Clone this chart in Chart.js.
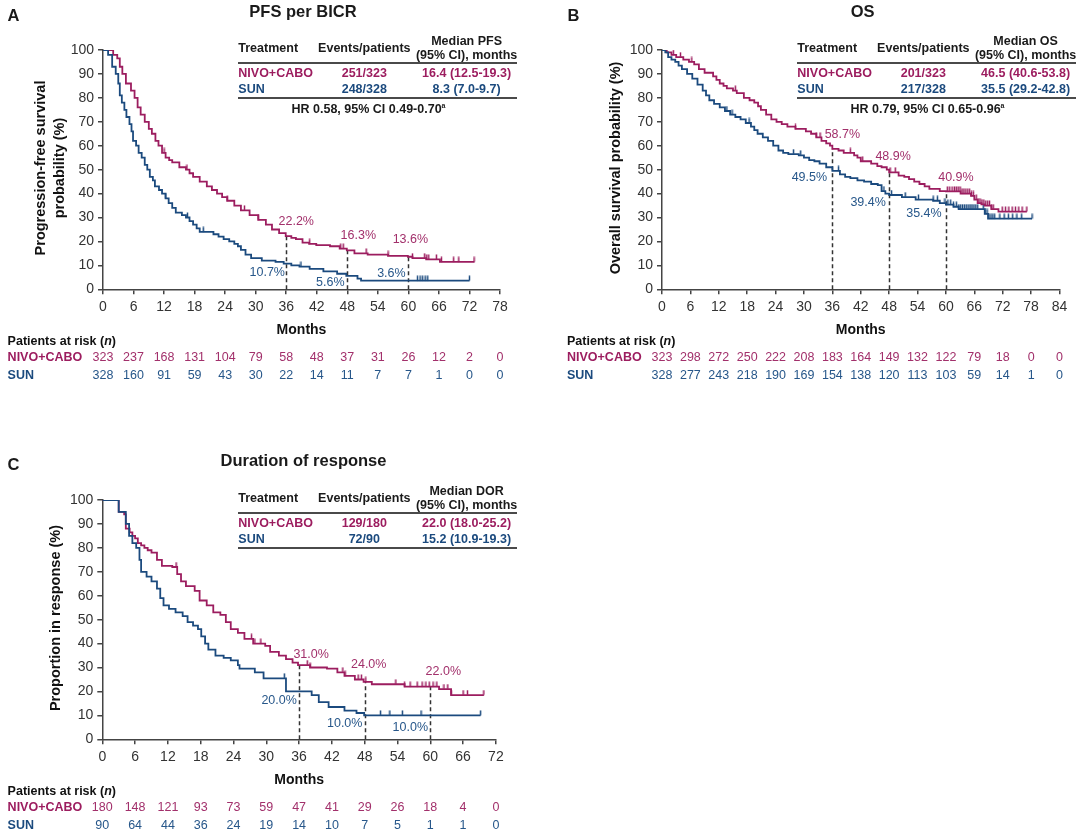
<!DOCTYPE html>
<html>
<head>
<meta charset="utf-8">
<script src="https://cdn.jsdelivr.net/npm/chart.js@4/dist/chart.umd.min.js"></script>
<style>
  body { margin: 0; background: #fff; font-family: "Liberation Sans", Arial, sans-serif; }
  #page { position: relative; width: 1080px; height: 832px; overflow: hidden; }
  canvas { position: absolute; }
  .t { position: absolute; white-space: nowrap; color: #1a1a1a; font-size: 12.5px; font-weight: bold; line-height: 1; }
  .rule { position: absolute; height: 1.5px; background: #4a4a4a; }
</style>
</head>
<body>
<div id="page">
  <canvas id="pfs" width="540" height="395" style="left:0;top:0"></canvas>
  <canvas id="os" width="540" height="395" style="left:540px;top:0"></canvas>
  <canvas id="dor" width="540" height="382" style="left:0;top:450px"></canvas>
</div>
<script>
const FONT = '"Liberation Sans", Arial, sans-serif';
const NIVO = '#9c1d5f', SUN = '#1b4a7e';
const NIVO_TXT = '#a2306b', SUN_TXT = '#27578a';

// ---- PFS per BICR (months where the curve steps, survival % after the step)
const pfsNivoT = [0, 2.0, 2.8, 3.3, 3.8, 4.5, 5.5, 6.2, 6.8, 7.4, 8.2, 9.0, 9.6, 10.3, 10.9, 11.6, 12.3, 13.0, 13.6, 15.0, 16.3, 17.0, 17.7, 19.0, 20.4, 21.4, 22.4, 23.4, 24.4, 25.8, 27.1, 28.8, 30.5, 32.0, 33.2, 34.6, 35.9, 37.0, 37.9, 39.2, 40.5, 41.9, 44.6, 46.5, 47.9, 49.4, 52.0, 56.0, 59.9, 60.8, 63.5, 66.2, 73.0];
const pfsNivoS = [100, 98, 96.5, 93, 90, 86, 83, 80, 76, 73, 70, 67, 65, 62, 60, 57, 55, 54, 53, 51, 50, 48.5, 47, 45, 43, 41.5, 40, 38.5, 37, 35, 33, 31, 29, 27, 25, 23.5, 22.2, 21.5, 21, 19.5, 19, 18.5, 18, 17, 16.3, 15, 14.5, 14, 13.6, 13, 12.5, 11.5, 11.5];
const pfsSunT = [0, 1.0, 1.8, 2.5, 3.0, 3.3, 3.7, 4.2, 4.6, 5.2, 5.6, 5.9, 6.5, 7.0, 7.6, 8.2, 8.7, 9.2, 9.8, 10.2, 11.0, 11.6, 12.3, 12.9, 13.6, 14.3, 15.5, 16.3, 17.0, 17.7, 18.4, 19.0, 21.7, 22.7, 23.7, 24.8, 25.8, 26.5, 27.1, 28.0, 29.1, 31.2, 33.9, 35.5, 37.0, 38.6, 40.6, 43.3, 46.0, 47.8, 50.0, 50.7, 72.0];
const pfsSunS = [100, 98, 93, 90, 86, 81, 78, 75, 72, 69, 66, 62, 60, 57, 55, 52, 50, 47, 45.5, 43, 41.5, 40, 38, 36, 34, 32, 31, 30, 28.5, 27, 25.5, 24, 23, 22, 21, 20, 19, 18, 16.5, 14.5, 13, 12, 11.5, 10.7, 10, 9.5, 8.5, 7.5, 6.5, 5.6, 4.5, 3.6, 3.6];
const pfsNivoCens = [12.0, 16.5, 24.4, 27.8, 30.5, 40.6, 46.7, 47.2, 51.7, 56.0, 60.8, 63.2, 63.6, 64.0, 65.5, 66.5, 68.9, 69.9, 72.9];
const pfsSunCens = [12.3, 16.6, 19.7, 38.9, 61.8, 62.3, 62.8, 63.3, 63.8, 72.0];
const pfsLandNivo = [22.2, 16.3, 13.6];
const pfsLandSun = [10.7, 5.6, 3.6];
const pfsRiskNivo = [323, 237, 168, 131, 104, 79, 58, 48, 37, 31, 26, 12, 2, 0];
const pfsRiskSun = [328, 160, 91, 59, 43, 30, 22, 14, 11, 7, 7, 1, 0, 0];

// ---- OS
const osNivoT = [0, 1.0, 2.0, 3.0, 4.5, 5.7, 6.8, 7.8, 9.0, 10.8, 11.5, 12.2, 13.0, 13.7, 15.0, 15.8, 17.3, 18.5, 19.5, 20.3, 20.9, 22.0, 23.1, 24.2, 25.3, 26.5, 28.2, 30.4, 31.5, 32.6, 33.7, 34.7, 35.5, 36.0, 37.3, 38.4, 40.6, 41.3, 42.0, 44.2, 45.5, 46.4, 47.5, 48.0, 50.0, 51.2, 52.2, 53.3, 54.4, 55.5, 56.5, 58.7, 60.0, 63.1, 65.3, 66.0, 66.7, 67.5, 68.2, 69.6, 71.1, 77.1];
const osNivoS = [100, 99, 98, 97, 96, 95, 94, 92, 90.5, 89, 87.5, 86, 85, 84, 83, 82, 80, 79, 78, 76.5, 75, 73, 71, 70, 69, 68, 67, 66, 65, 63.5, 62, 61, 60, 58.7, 58, 57, 56, 55, 53.5, 52.5, 51.5, 51, 50, 48.9, 47.5, 47, 46, 45, 44, 43, 42, 41, 40.9, 40, 39, 37.5, 36, 35.5, 35, 33.5, 32.5, 32.5];
const osSunT = [0, 0.7, 1.3, 2.0, 2.8, 3.5, 4.2, 5.3, 6.4, 7.5, 8.6, 9.3, 10.0, 11.0, 12.2, 13.3, 14.4, 15.5, 16.6, 17.7, 18.8, 19.5, 20.2, 21.3, 22.4, 23.5, 24.6, 25.6, 26.7, 28.9, 30.0, 31.1, 32.2, 33.3, 34.7, 36.0, 37.6, 38.7, 39.8, 41.3, 42.7, 44.2, 45.6, 46.4, 47.2, 48.0, 50.7, 53.6, 57.3, 58.7, 60.0, 61.6, 62.7, 68.2, 68.9, 78.2];
const osSunS = [100, 99, 97, 96, 95, 93.5, 92, 90, 88, 85.5, 83, 81, 79, 77.5, 76, 74.5, 73, 72, 71, 69.5, 68, 66.5, 65, 63.5, 62, 60, 58, 57, 56.5, 56, 55, 54, 53.5, 52.5, 51, 49.5, 48, 47, 46.5, 45.5, 45, 44, 43.5, 41, 40, 39.4, 38.5, 37.5, 37, 36, 35.4, 34.5, 33.5, 31.5, 29.5, 29.5];
const osNivoCens = [2.4, 3.9, 6.3, 15.5, 28.2, 32.6, 33.4, 39.8, 42.4, 48.2, 49.3, 60.3, 60.8, 61.3, 61.8, 62.2, 62.6, 63.0, 63.4, 63.8, 64.2, 64.6, 65.0, 65.4, 65.8, 66.4, 66.8, 67.2, 67.6, 68.0, 68.4, 68.8, 69.2, 69.6, 70.0, 71.9, 72.6, 73.3, 74.0, 74.7, 75.4, 76.1, 77.1];
const osSunCens = [13.7, 14.8, 18.4, 27.8, 29.3, 37.3, 46.9, 48.5, 51.4, 54.2, 57.3, 58.2, 59.8, 60.4, 61.0, 61.6, 62.2, 62.7, 63.1, 63.5, 63.9, 64.3, 64.7, 65.1, 65.5, 65.9, 66.3, 66.7, 67.9, 68.3, 68.7, 69.1, 69.5, 69.9, 70.3, 71.4, 72.3, 73.2, 74.1, 75.0, 76.0, 78.2];
const osLandNivo = [58.7, 48.9, 40.9];
const osLandSun = [49.5, 39.4, 35.4];
const osRiskNivo = [323, 298, 272, 250, 222, 208, 183, 164, 149, 132, 122, 79, 18, 0, 0];
const osRiskSun = [328, 277, 243, 218, 190, 169, 154, 138, 120, 113, 103, 59, 14, 1, 0];

// ---- Duration of response
const dorNivoT = [0, 3.0, 4.0, 4.3, 5.0, 5.5, 6.0, 6.5, 7.1, 7.7, 8.3, 9.0, 10.0, 10.9, 12.8, 13.7, 14.4, 15.3, 16.9, 17.8, 19.1, 20.3, 21.6, 22.6, 23.5, 24.8, 26.0, 27.6, 29.8, 30.7, 32.3, 33.6, 34.8, 35.8, 38.0, 41.1, 43.0, 44.3, 46.2, 47.8, 49.3, 55.3, 61.6, 63.8, 69.8];
const dorNivoS = [100, 95, 94, 88, 86.5, 85, 84, 82, 81, 80, 79, 78, 75, 72.5, 72, 69, 66, 64, 62, 58, 56, 53, 52, 49, 46, 44.5, 42, 40, 39, 36.5, 35, 33.5, 32, 31, 30, 29.5, 28, 26.5, 25, 24, 23, 22, 21, 18.5, 18.5];
const dorSunT = [0, 3.0, 4.3, 4.9, 5.5, 6.2, 6.8, 7.1, 8.1, 9.0, 10.0, 10.6, 11.2, 12.2, 13.4, 14.7, 15.6, 16.6, 17.5, 18.1, 18.8, 19.4, 20.7, 22.2, 23.5, 24.8, 25.1, 27.9, 29.5, 33.6, 38.3, 39.6, 41.4, 44.3, 46.5, 47.9, 69.2];
const dorSunS = [100, 95, 90, 85, 82, 80, 75, 70, 68, 66, 63, 59, 56, 54.5, 53, 51.5, 49, 47.5, 46, 43, 40, 37.5, 35, 34, 33, 31, 29.5, 28, 25.5, 20, 18.5, 15.5, 13.5, 12, 11, 10, 10];
const dorNivoCens = [1.5, 2.8, 13.5, 27.3, 27.9, 29.0, 37.5, 38.0, 44.0, 44.4, 46.8, 47.4, 48.2, 53.7, 55.3, 56.3, 57.6, 58.5, 59.2, 59.8, 60.5, 61.2, 62.5, 63.2, 63.8, 66.0, 66.8, 69.8];
const dorSunCens = [2.0, 33.3, 50.9, 52.6, 54.9, 58.3, 69.2];
const dorLandNivo = [31.0, 24.0, 22.0];
const dorLandSun = [20.0, 10.0, 10.0];
const dorRiskNivo = [180, 148, 121, 93, 73, 59, 47, 41, 29, 26, 18, 4, 0];
const dorRiskSun = [90, 64, 44, 36, 24, 19, 14, 10, 7, 5, 1, 1, 0];

const landmarks = [36, 48, 60];

Chart.defaults.font.family = FONT;

function stepAt(T, S, t) {
  let v = S[0];
  for (let i = 0; i < T.length; i++) if (T[i] <= t) v = S[i];
  return v;
}

// censor mark: short vertical stroke standing on the curve
function tickImg(color) {
  const c = document.createElement('canvas');
  c.width = 3; c.height = 11;
  const g = c.getContext('2d');
  g.strokeStyle = color; g.lineWidth = 1.5;
  g.beginPath(); g.moveTo(1.5, 0.5); g.lineTo(1.5, 5.5); g.stroke();
  return c;
}

function extras(p) {
  return {
    id: 'extras',
    beforeDatasetsDraw(chart) {
      const { ctx, scales: { x, y } } = chart;
      ctx.save();
      ctx.setLineDash([4, 3]);
      ctx.strokeStyle = '#333'; ctx.lineWidth = 1.5;
      landmarks.forEach((m, i) => {
        const px = Math.round(x.getPixelForValue(m)) + 0.5;
        ctx.beginPath();
        ctx.moveTo(px, y.getPixelForValue(0));
        ctx.lineTo(px, y.getPixelForValue(p.landNivo[i]));
        ctx.stroke();
      });
      ctx.restore();
    },
    afterDraw(chart) {
      const { ctx, chartArea, scales: { x, y } } = chart;
      ctx.save();
      ctx.textAlign = 'center'; ctx.textBaseline = 'middle';

      ctx.font = '12.5px ' + FONT;
      landmarks.forEach((m, i) => {
        const px = x.getPixelForValue(m);
        ctx.fillStyle = NIVO_TXT;
        ctx.fillText(p.landNivo[i].toFixed(1) + '%', px + p.nivoOff[i][0], y.getPixelForValue(p.landNivo[i]) + p.nivoOff[i][1]);
        ctx.fillStyle = SUN_TXT;
        ctx.fillText(p.landSun[i].toFixed(1) + '%', px + p.sunOff[i][0], y.getPixelForValue(p.landSun[i]) + p.sunOff[i][1]);
      });

      ctx.fillStyle = '#111';
      ctx.font = 'bold 14px ' + FONT;
      ctx.fillText('Months', (chartArea.left + chartArea.right) / 2, 330);

      ctx.font = 'bold 14.5px ' + FONT;
      p.yTitle.forEach((line, i) => {
        ctx.save();
        ctx.translate(p.yTitleX[i], 168);
        ctx.rotate(-Math.PI / 2);
        ctx.fillText(line, 0, 0);
        ctx.restore();
      });

      // patients at risk
      ctx.textAlign = 'left';
      ctx.font = 'bold 12.5px ' + FONT;
      let tx = p.riskX;
      ctx.fillText('Patients at risk (', tx, 342);
      tx += ctx.measureText('Patients at risk (').width;
      ctx.font = 'italic bold 12.5px ' + FONT;
      ctx.fillText('n', tx, 342);
      tx += ctx.measureText('n').width;
      ctx.font = 'bold 12.5px ' + FONT;
      ctx.fillText(')', tx, 342);
      ctx.fillStyle = NIVO;
      ctx.fillText('NIVO+CABO', p.riskX, 358);
      ctx.fillStyle = SUN;
      ctx.fillText('SUN', p.riskX, 376);

      ctx.textAlign = 'center';
      ctx.font = '12.5px ' + FONT;
      p.riskNivo.forEach((n, i) => {
        ctx.fillStyle = NIVO_TXT;
        ctx.fillText(String(n), x.getPixelForValue(i * 6), 358);
        ctx.fillStyle = SUN_TXT;
        ctx.fillText(String(p.riskSun[i]), x.getPixelForValue(i * 6), 376);
      });
      ctx.restore();
    }
  };
}

function axis(extra, step) {
  return Object.assign({
    ticks: { font: { size: 14 }, color: '#333', padding: 4, autoSkip: false, maxRotation: 0, stepSize: step },
    grid: { drawOnChartArea: false, tickLength: 5, color: '#444', lineWidth: 1.5 },
    border: { color: '#444', width: 1.5 }
  }, extra);
}

function makePanel(p) {
  const pts = (T, S) => T.map((t, i) => ({ x: t, y: S[i] }));
  const cens = (C, T, S) => C.map(t => ({ x: t, y: stepAt(T, S, t) }));
  new Chart(document.getElementById(p.id), {
    type: 'line',
    data: {
      datasets: [
        { data: pts(p.sunT, p.sunS), borderColor: SUN, borderWidth: 1.8, stepped: true, pointRadius: 0, fill: false },
        { data: pts(p.nivoT, p.nivoS), borderColor: NIVO, borderWidth: 1.8, stepped: true, pointRadius: 0, fill: false },
        { data: cens(p.sunC, p.sunT, p.sunS), showLine: false, pointStyle: tickImg(SUN), pointRadius: 3 },
        { data: cens(p.nivoC, p.nivoT, p.nivoS), showLine: false, pointStyle: tickImg(NIVO), pointRadius: 3 }
      ]
    },
    options: {
      responsive: false, animation: false, events: [],
      layout: { padding: { top: 50, left: 0, right: p.W - p.right, bottom: 0 } },
      plugins: { legend: { display: false }, tooltip: { enabled: false } },
      scales: {
        x: axis({ type: 'linear', min: 0, max: p.xMax, afterFit: s => { s.height = p.H - p.bottom; } }, 6),
        y: axis({ min: 0, max: 100, afterFit: s => { s.width = p.left; } }, 10)
      }
    },
    plugins: [extras(p)]
  });
}

makePanel({
  id: 'pfs', W: 540, H: 395, left: 103, right: 500, bottom: 289.3, xMax: 78,
  nivoT: pfsNivoT, nivoS: pfsNivoS, sunT: pfsSunT, sunS: pfsSunS, nivoC: pfsNivoCens, sunC: pfsSunCens,
  landNivo: pfsLandNivo, landSun: pfsLandSun,
  nivoOff: [[10, -15], [11, -15], [2, -17]], sunOff: [[-19, 9], [-17, 7], [-17, -7]],
  riskNivo: pfsRiskNivo, riskSun: pfsRiskSun, riskX: 7.6,
  yTitle: ['Progression-free survival', 'probability (%)'], yTitleX: [41.3, 60]
});
makePanel({
  id: 'os', W: 540, H: 395, left: 122, right: 519.5, bottom: 289.3, xMax: 84,
  nivoT: osNivoT, nivoS: osNivoS, sunT: osSunT, sunS: osSunS, nivoC: osNivoCens, sunC: osSunCens,
  landNivo: osLandNivo, landSun: osLandSun,
  nivoOff: [[10, -14], [4, -16], [10, -14]], sunOff: [[-23, 7], [-21, 8], [-22, 9]],
  riskNivo: osRiskNivo, riskSun: osRiskSun, riskX: 27,
  yTitle: ['Overall survival probability (%)'], yTitleX: [76.4]
});
makePanel({
  id: 'dor', W: 540, H: 382, left: 102.3, right: 495.9, bottom: 289.3, xMax: 72,
  nivoT: dorNivoT, nivoS: dorNivoS, sunT: dorSunT, sunS: dorSunS, nivoC: dorNivoCens, sunC: dorSunCens,
  landNivo: dorLandNivo, landSun: dorLandSun,
  nivoOff: [[12, -11], [4, -17], [13, -15]], sunOff: [[-20, 9], [-20, 8], [-20, 12]],
  riskNivo: dorRiskNivo, riskSun: dorRiskSun, riskX: 7.6,
  yTitle: ['Proportion in response (%)'], yTitleX: [56]
});

// ---- HTML text: panel letters, titles, inset tables
const page = document.getElementById('page');
function put(x, y, html, css, anchor) {
  const d = document.createElement('div');
  d.className = 't';
  d.innerHTML = html;
  d.style.left = x + 'px';
  d.style.top = y + 'px';
  d.style.transform = anchor === 'l' ? 'translate(0,-50%)' : 'translate(-50%,-50%)';
  if (anchor !== 'l') d.style.textAlign = 'center';
  Object.assign(d.style, css || {});
  page.appendChild(d);
}
function rule(x1, x2, y) {
  const d = document.createElement('div');
  d.className = 'rule';
  d.style.left = x1 + 'px'; d.style.width = (x2 - x1) + 'px'; d.style.top = y + 'px';
  page.appendChild(d);
}

put(7.6, 15, 'A', { fontSize: '16.5px' }, 'l');
put(567.5, 15, 'B', { fontSize: '16.5px' }, 'l');
put(7.6, 464, 'C', { fontSize: '16.5px' }, 'l');
put(303, 11, 'PFS per BICR', { fontSize: '16.5px' });
put(862.7, 11, 'OS', { fontSize: '16.5px' });
put(303.5, 460, 'Duration of response', { fontSize: '16.5px' });

function inset(dx, dy, medLabel, nivoRow, sunRow, hr) {
  put(238.3 + dx, 48 + dy, 'Treatment', null, 'l');
  put(364.3 + dx, 48 + dy, 'Events/patients');
  put(466.6 + dx, 41 + dy, medLabel);
  put(466.6 + dx, 55 + dy, '(95% CI), months');
  rule(238.3 + dx, 517.2 + dx, 62 + dy);
  put(238.3 + dx, 73 + dy, 'NIVO+CABO', { color: NIVO }, 'l');
  put(364.3 + dx, 73 + dy, nivoRow[0], { color: NIVO });
  put(466.6 + dx, 73 + dy, nivoRow[1], { color: NIVO });
  put(238.3 + dx, 89 + dy, 'SUN', { color: SUN }, 'l');
  put(364.3 + dx, 89 + dy, sunRow[0], { color: SUN });
  put(466.6 + dx, 89 + dy, sunRow[1], { color: SUN });
  rule(238.3 + dx, 517.2 + dx, 97 + dy);
  if (hr) put(368.5 + dx, 109 + dy, hr + '<sup style="font-size:7px">a</sup>');
}
inset(0, 0, 'Median PFS', ['251/323', '16.4 (12.5-19.3)'], ['248/328', '8.3 (7.0-9.7)'], 'HR 0.58, 95% CI 0.49-0.70');
inset(559, 0, 'Median OS', ['201/323', '46.5 (40.6-53.8)'], ['217/328', '35.5 (29.2-42.8)'], 'HR 0.79, 95% CI 0.65-0.96');
inset(0, 450, 'Median DOR', ['129/180', '22.0 (18.0-25.2)'], ['72/90', '15.2 (10.9-19.3)'], null);
</script>
</body>
</html>
